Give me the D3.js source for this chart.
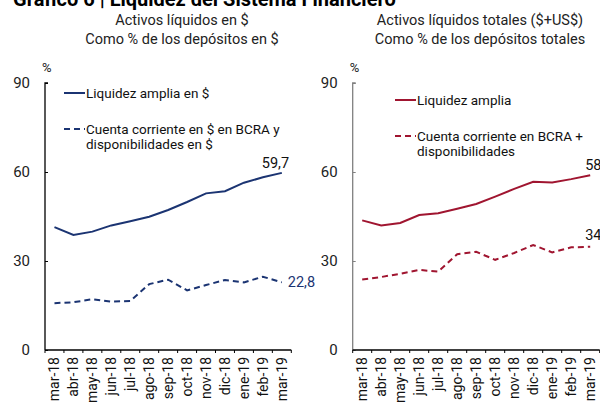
<!DOCTYPE html>
<html>
<head>
<meta charset="utf-8">
<script src="https://cdn.jsdelivr.net/npm/d3@7"></script>
<style>
  body { margin: 0; background: #fff; }
  svg { font-family: Roboto, Arial, sans-serif; }
</style>
</head>
<body>
<div id="chart"></div>
<script>
var width = 600;
var height = 405;

var months = ["mar-18", "abr-18", "may-18", "jun-18", "jul-18", "ago-18", "sep-18",
    "oct-18", "nov-18", "dic-18", "ene-19", "feb-19", "mar-19"];
var yTicks = [0, 30, 60, 90];

// Panel izquierdo: pesos
var liqAmpliaPesos = [41.4, 38.8, 39.9, 42.0, 43.4, 44.9, 47.2, 49.9, 52.8, 53.5, 56.4, 58.2, 59.7];
var ctaCtePesos = [15.8, 16.1, 17.1, 16.3, 16.5, 22.2, 23.7, 20.1, 21.9, 23.6, 22.8, 24.7, 22.8];

// Panel derecho: total ($+US$)
var liqAmpliaTotal = [43.7, 42.0, 42.8, 45.5, 46.1, 47.6, 49.2, 51.7, 54.3, 56.7, 56.5, 57.6, 58.9];
var ctaCteTotal = [23.8, 24.6, 25.7, 27.0, 26.4, 32.3, 33.1, 30.4, 32.7, 35.4, 32.9, 34.6, 34.8];

var svg = d3.select("#chart")
    .append("svg")
    .attr("width", width)
    .attr("height", height);

// titulo (cortado arriba en la imagen original)
svg.append("text")
    .attr("x", 13)
    .attr("y", 6)
    .attr("font-size", 20)
    .attr("font-weight", "bold")
    .attr("fill", "#000")
    .text("Gráfico 6 | Liquidez del Sistema Financiero");

function fmt(v) {
    return d3.format(".1f")(v).replace(".", ",");
}

function drawPanel(opts) {
    var g = svg.append("g");

    var x = d3.scaleBand()
        .domain(months)
        .range([opts.left, opts.right]);

    var y = d3.scaleLinear()
        .domain([0, 90])
        .range([350, 83]);

    // subtitulos
    g.selectAll(".sub")
        .data(opts.subtitle)
        .enter()
        .append("text")
        .attr("x", opts.subX)
        .attr("y", function(d, i) { return 25 + i * 19; })
        .attr("text-anchor", "middle")
        .attr("font-size", 14.5)
        .attr("fill", "#222")
        .text(function(d) { return d; });

    g.append("text")
        .attr("x", opts.left - 3)
        .attr("y", 72)
        .attr("font-size", 13)
        .attr("fill", "#222")
        .text("%");

    // eje y
    var yAxis = g.append("g")
        .attr("transform", "translate(" + opts.left + ",0)")
        .call(d3.axisRight(y).tickValues(yTicks).tickSize(3).tickFormat(""));
    yAxis.select(".domain").attr("stroke", opts.axisColor).attr("stroke-width", 1.3)
        .attr("d", "M3," + y(90) + "H0V" + y(0));
    yAxis.selectAll(".tick line").attr("stroke", opts.axisColor);

    g.selectAll(".ylab")
        .data(yTicks)
        .enter()
        .append("text")
        .attr("x", opts.left - 15)
        .attr("y", function(d) { return y(d); })
        .attr("dy", "0.35em")
        .attr("text-anchor", "end")
        .attr("font-size", 15)
        .attr("fill", "#222")
        .text(function(d) { return d; });

    // eje x
    var xAxis = g.append("g")
        .attr("transform", "translate(0,350)");
    xAxis.append("line")
        .attr("x1", opts.left)
        .attr("x2", opts.right)
        .attr("stroke", "#000")
        .attr("stroke-width", 1.3);
    xAxis.selectAll(".xt")
        .data(months.concat(["end"]))
        .enter()
        .append("line")
        .attr("x1", function(d, i) { return i < months.length ? x(d) : opts.right; })
        .attr("x2", function(d, i) { return i < months.length ? x(d) : opts.right; })
        .attr("y1", 0)
        .attr("y2", 3)
        .attr("stroke", "#000");
    xAxis.selectAll(".xl")
        .data(months)
        .enter()
        .append("text")
        .attr("transform", function(d) {
            return "translate(" + (x(d) + x.bandwidth() / 2) + ",7) rotate(-90)";
        })
        .attr("dy", "0.35em")
        .attr("text-anchor", "end")
        .attr("font-size", 14)
        .attr("fill", "#111")
        .text(function(d) { return d; });

    var line = d3.line()
        .x(function(d, i) { return x(months[i]) + x.bandwidth() / 2; })
        .y(function(d) { return y(d); });

    g.append("path")
        .datum(opts.solid)
        .attr("d", line)
        .attr("fill", "none")
        .attr("stroke", opts.color)
        .attr("stroke-width", 2);

    g.append("path")
        .datum(opts.dashed)
        .attr("d", line)
        .attr("fill", "none")
        .attr("stroke", opts.color)
        .attr("stroke-width", 2)
        .attr("stroke-dasharray", "6,4");

    // etiquetas del ultimo valor
    var lastX = x(months[months.length - 1]) + x.bandwidth() / 2;
    g.append("text")
        .attr("x", lastX + opts.solidLabelDx)
        .attr("y", y(opts.solid[opts.solid.length - 1]) - 5)
        .attr("font-size", 14.5)
        .attr("fill", "#111")
        .text(fmt(opts.solid[opts.solid.length - 1]));
    g.append("text")
        .attr("x", lastX + opts.dashLabelDx)
        .attr("y", y(opts.dashed[opts.dashed.length - 1]) + opts.dashLabelDy)
        .attr("dy", "0.35em")
        .attr("font-size", 14.5)
        .attr("fill", opts.dashLabelColor)
        .text(fmt(opts.dashed[opts.dashed.length - 1]));

    // leyenda
    var leg = g.append("g")
        .attr("transform", "translate(" + opts.legX + "," + opts.legY + ")");
    leg.append("line")
        .attr("x1", 0).attr("x2", 21)
        .attr("stroke", opts.color).attr("stroke-width", 2);
    leg.append("text")
        .attr("x", 22).attr("dy", "0.35em")
        .attr("font-size", 13.5).attr("fill", "#111")
        .text(opts.legend[0]);
    leg.append("line")
        .attr("x1", 0).attr("x2", 21)
        .attr("y1", 36).attr("y2", 36)
        .attr("stroke", opts.color).attr("stroke-width", 2)
        .attr("stroke-dasharray", "6,4");
    leg.selectAll(".l2")
        .data(opts.legend.slice(1))
        .enter()
        .append("text")
        .attr("x", 22)
        .attr("y", function(d, i) { return 36 + i * 15; })
        .attr("dy", "0.35em")
        .attr("font-size", 13.5).attr("fill", "#111")
        .text(function(d) { return d; });
}

drawPanel({
    left: 45, right: 291.3, subX: 182,
    subtitle: ["Activos líquidos en $", "Como % de los depósitos en $"],
    axisColor: "#000",
    color: "#1b3472",
    solid: liqAmpliaPesos, dashed: ctaCtePesos,
    solidLabelDx: -20,
    dashLabelDx: 6, dashLabelDy: 0, dashLabelColor: "#1b3472",
    legX: 64, legY: 93,
    legend: ["Liquidez amplia en $", "Cuenta corriente en $ en BCRA y", "disponibilidades en $"]
});

drawPanel({
    left: 352.7, right: 599.7, subX: 480,
    subtitle: ["Activos líquidos totales ($+US$)", "Como % de los depósitos totales"],
    axisColor: "#808080",
    color: "#a01530",
    solid: liqAmpliaTotal, dashed: ctaCteTotal,
    solidLabelDx: -5,
    dashLabelDx: -5, dashLabelDy: -12, dashLabelColor: "#111",
    legX: 395, legY: 100,
    legend: ["Liquidez amplia", "Cuenta corriente en BCRA +", "disponibilidades"]
});
</script>
</body>
</html>
